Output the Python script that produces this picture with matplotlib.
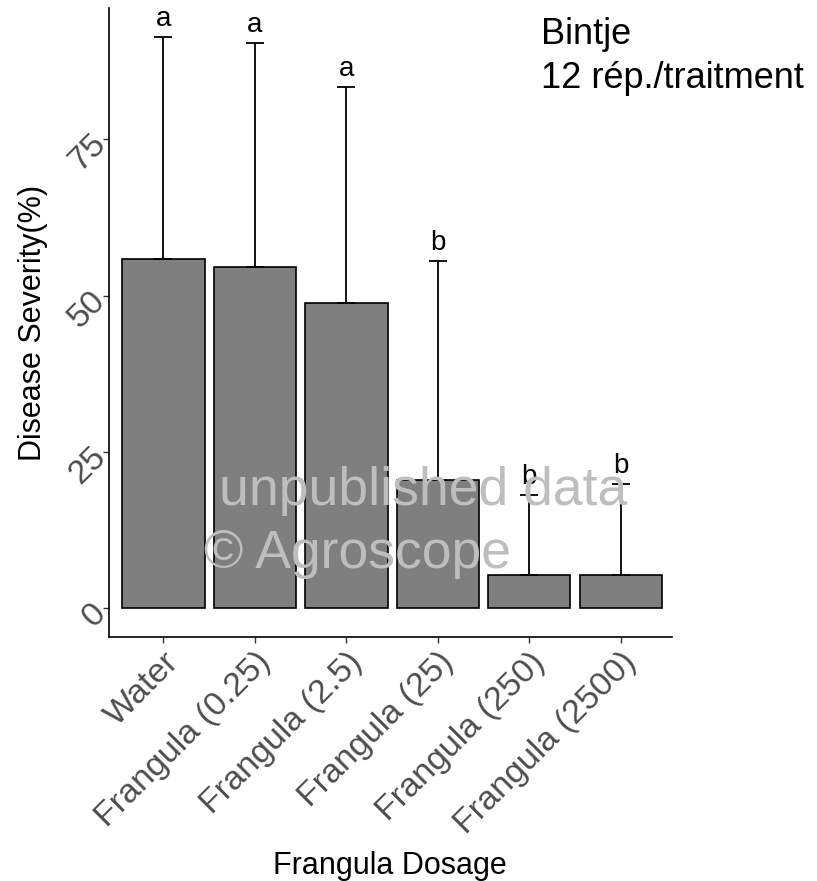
import matplotlib
matplotlib.use("Agg")
import matplotlib.pyplot as plt
import numpy as np

plt.rcParams['font.family'] = ['Liberation Sans', 'DejaVu Sans']

# Treatments and summary statistics (disease severity, %)
treatments = ["Water", "Frangula (0.25)", "Frangula (2.5)", "Frangula (25)",
              "Frangula (250)", "Frangula (2500)"]
mean_severity = [55.9, 54.6, 48.8, 20.5, 5.4, 5.4]
sd_severity = [35.5, 35.8, 34.6, 35.1, 12.8, 14.5]
groups = ["a", "a", "a", "b", "b", "b"]
y_ticks = [0, 25, 50, 75]

fig = plt.figure(figsize=(8.17, 8.81), dpi=100)
ax = fig.add_axes([108.5 / 817, 244 / 881, (672 - 108.5) / 817, 629 / 881])

x = np.arange(1, len(treatments) + 1)
ax.bar(x, mean_severity, width=0.9, color="#7F7F7F", edgecolor="black",
       linewidth=1.2, zorder=2)
ax.errorbar(x, mean_severity, yerr=[np.zeros(len(x)), sd_severity], fmt="none",
            ecolor="black", elinewidth=1.3, capsize=6.5, capthick=1.3, zorder=3)

tops = np.array(mean_severity) + np.array(sd_severity)
for xi, top, g in zip(x, tops, groups):
    ax.text(xi, top + 1.7, g, ha="center", va="baseline", fontsize=20,
            color="black", zorder=4)

ax.set_xlim(0.4, 6.56)
ax.set_ylim(-4.57, 96.0)
ax.set_xticks(x)
ax.set_xticklabels(treatments, rotation=45, ha="right", va="top",
                   rotation_mode="anchor", fontsize=24.5, color="#4D4D4D")
ax.set_yticks(y_ticks)
ax.set_yticklabels([str(t) for t in y_ticks], rotation=45, ha="right",
                   va="center", rotation_mode="anchor", fontsize=24.5,
                   color="#4D4D4D")
ax.tick_params(axis="x", length=4, width=1, color="#333333", pad=3)
ax.tick_params(axis="y", length=4, width=1, color="#333333", pad=1.5)

for side in ("top", "right"):
    ax.spines[side].set_visible(False)
for side in ("left", "bottom"):
    ax.spines[side].set_linewidth(1.2)
    ax.spines[side].set_color("black")

ax.set_xlabel("Frangula Dosage", fontsize=22, labelpad=8)
ax.set_ylabel("Disease Severity(%)", fontsize=22, labelpad=11)

# Annotation in the top-right corner
fig.text(541 / 817, 1 - 88 / 881, "Bintje\n12 rép./traitment", ha="left",
         va="baseline", fontsize=26, linespacing=1.35)

# Watermark over the bars
fig.text(219 / 817, 1 - 505 / 881, "unpublished data", ha="left",
         va="baseline", fontsize=38.5, color="#BEBEBE", zorder=10)
fig.text(204 / 817, 1 - 568 / 881, "© Agroscope", ha="left",
         va="baseline", fontsize=38.5, color="#BEBEBE", zorder=10)

fig.savefig("out.png", dpi=100)
